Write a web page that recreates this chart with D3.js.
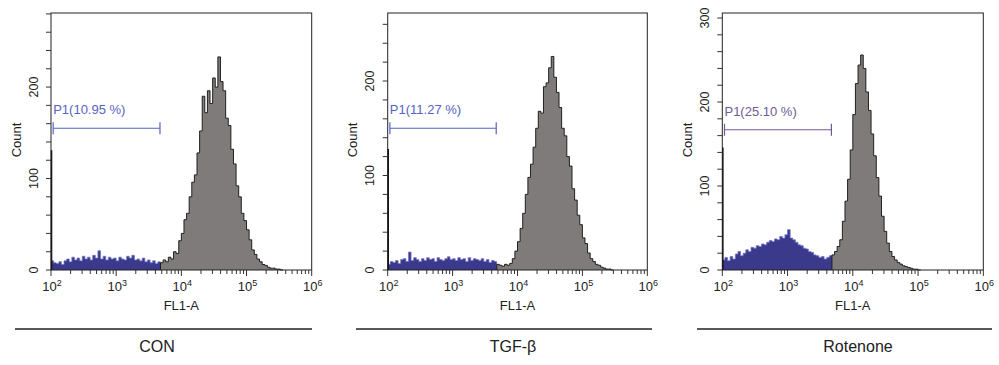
<!DOCTYPE html>
<html>
<head>
<meta charset="utf-8">
<script src="https://cdn.jsdelivr.net/npm/d3@7"></script>
<style>
  body { margin: 0; background: #fff; }
  svg text { font-family: "Liberation Sans", Arial, sans-serif; fill: #222; }
</style>
</head>
<body>
<svg id="chart" width="999" height="365"></svg>
<script>
// histogram bins start at 10^2, each bin is 0.04 decade wide
const binStart = 2;
const binStep = 0.04;
const gateBins = 42; // bins that fall inside the P1 gate

const panelNames = ['CON', 'TGF-β', 'Rotenone'];
const gateLabels = ['P1(10.95 %)', 'P1(11.27 %)', 'P1(25.10 %)'];
const gateCounts = [155, 150, 167];
const gateRange = [108, 4700];
const yMaxes = [281, 272, 306];
const yTickLabels = [[0, 100, 200], [0, 100, 200], [0, 100, 200, 300]];
const xTickExps = [2, 3, 4, 5, 6];
const edgeCounts = [131, 128, 146]; // events piled on the 10^2 edge

const conCounts = [
  10, 8, 7, 9, 6, 10, 12, 9, 14, 11, 13, 10, 15, 12, 14, 11, 16, 13, 21, 12, 15,
  11, 14, 12, 13, 10, 14, 12, 11, 15, 13, 16, 11, 12, 10, 13, 9, 11, 8, 10, 7, 9,
  8, 11, 9, 14, 12, 20, 18, 32, 40, 55, 62, 80, 96, 104, 128, 152, 190, 172, 196,
  182, 210, 200, 233, 206, 196, 166, 158, 132, 116, 92, 80, 62, 54, 44, 33, 22,
  17, 12, 9, 6, 5, 3, 2, 2, 1, 1, 0
];
const tgfCounts = [
  6, 9, 8, 10, 7, 11, 12, 9, 19, 10, 13, 11, 9, 12, 10, 13, 11, 12, 9, 13, 11,
  10, 12, 14, 11, 12, 10, 13, 11, 12, 9, 13, 10, 12, 11, 10, 12, 9, 11, 8, 10, 9,
  6, 5, 4, 6, 5, 7, 12, 20, 30, 44, 60, 80, 98, 112, 130, 150, 168, 166, 194, 198,
  214, 226, 204, 188, 172, 150, 142, 120, 110, 86, 74, 58, 48, 34, 28, 18, 12, 9,
  6, 5, 3, 2, 1, 1, 0
];
const rotCounts = [
  12, 15, 11, 16, 13, 19, 22, 17, 20, 24, 22, 27, 26, 29, 28, 31, 30, 33, 35, 34,
  37, 36, 40, 38, 42, 48, 38, 36, 33, 30, 29, 26, 25, 22, 21, 18, 17, 15, 16, 13,
  15, 17,
  18, 22, 28, 36, 58, 82, 108, 143, 185, 222, 244, 256, 240, 212, 190, 162, 136,
  110, 88, 64, 46, 32, 22, 16, 12, 9, 7, 5, 4, 3, 2, 1, 1, 0
];
const allCounts = [conCounts, tgfCounts, rotCounts];

// layout
const plotTop = 13, plotBottom = 270;
const layout = [
  { left: 51, right: 311.7, lineL: 15, lineR: 312, titleX: 157 },
  { left: 387.7, right: 647.3, lineL: 356, lineR: 652, titleX: 513 },
  { left: 722.3, right: 983.3, lineL: 697, lineR: 992, titleX: 858 }
];
const colors = [
  { gate: '#5564c0', blue: '#3a398b', blueEdge: '#7475c6' },
  { gate: '#5564c0', blue: '#3a398b', blueEdge: '#7475c6' },
  { gate: '#6f5a92', blue: '#3a398b', blueEdge: '#7475c6' }
];

const svg = d3.select('#chart');

panelNames.forEach((name, p) => {
  const L = layout[p];
  const counts = allCounts[p];
  const x = d3.scaleLog().domain([1e2, 1e6]).range([L.left, L.right]);
  const y = d3.scaleLinear().domain([0, yMaxes[p]]).range([plotBottom, plotTop]);
  const g = svg.append('g');

  const pts = counts.map((c, i) => ({ v: Math.pow(10, binStart + i * binStep), c }));
  const closeAt = i => ({ v: Math.pow(10, binStart + i * binStep), c: counts[i - 1] });
  const bluePts = pts.slice(0, gateBins).concat([closeAt(gateBins)]);
  const grayPts = pts.slice(gateBins).concat([closeAt(counts.length)]);

  const area = d3.area().curve(d3.curveStepAfter)
    .x(d => x(d.v)).y0(y(0)).y1(d => y(d.c));
  const line = d3.line().curve(d3.curveStepAfter)
    .x(d => x(d.v)).y(d => y(d.c));

  // blue (gated) part
  g.append('path').attr('d', area(bluePts)).attr('fill', colors[p].blue);
  g.append('path').attr('d', line(bluePts)).attr('fill', 'none')
    .attr('stroke', colors[p].blueEdge).attr('stroke-width', 0.8);
  // gray part
  g.append('path').attr('d', area(grayPts)).attr('fill', '#807b7b');
  g.append('path').attr('d', line([{ v: grayPts[0].v, c: 0 }].concat(grayPts)))
    .attr('fill', 'none').attr('stroke', '#111').attr('stroke-width', 0.9);

  // events on the lower edge
  g.append('line')
    .attr('x1', x(1e2) + 0.5).attr('x2', x(1e2) + 0.5)
    .attr('y1', y(0)).attr('y2', y(edgeCounts[p]))
    .attr('stroke', '#111').attr('stroke-width', 1.6);

  // frame
  g.append('rect')
    .attr('x', L.left).attr('y', plotTop)
    .attr('width', L.right - L.left).attr('height', plotBottom - plotTop)
    .attr('fill', 'none').attr('stroke', '#222').attr('stroke-width', 1);

  // x ticks
  x.ticks().forEach(v => {
    const major = Math.abs(Math.log10(v) - Math.round(Math.log10(v))) < 1e-9;
    g.append('line')
      .attr('x1', x(v)).attr('x2', x(v))
      .attr('y1', plotBottom).attr('y2', plotBottom + (major ? 6 : 4))
      .attr('stroke', '#333').attr('stroke-width', 1);
  });
  xTickExps.forEach(e => {
    const t = g.append('text')
      .attr('x', x(Math.pow(10, e)) + 1).attr('y', 291)
      .attr('text-anchor', 'middle').attr('font-size', 13);
    t.append('tspan').text('10');
    t.append('tspan').attr('font-size', 9).attr('dy', -5).text(e);
  });
  g.append('text')
    .attr('x', (L.left + L.right) / 2).attr('y', 310)
    .attr('text-anchor', 'middle').attr('font-size', 13)
    .text('FL1-A');

  // y ticks
  d3.range(0, yMaxes[p] + 1, 20).forEach(v => {
    g.append('line')
      .attr('x1', L.left - 5).attr('x2', L.left)
      .attr('y1', y(v)).attr('y2', y(v))
      .attr('stroke', '#333').attr('stroke-width', 1);
  });
  yTickLabels[p].forEach(v => {
    g.append('text')
      .attr('transform', `translate(${L.left - 13.5},${y(v)}) rotate(-90)`)
      .attr('text-anchor', 'middle').attr('font-size', 12.5)
      .text(v);
  });
  g.append('text')
    .attr('transform', `translate(${L.left - 30.5},140) rotate(-90)`)
    .attr('text-anchor', 'middle').attr('font-size', 13)
    .text('Count');

  // P1 gate
  const gy = y(gateCounts[p]);
  const gx0 = x(gateRange[0]), gx1 = x(gateRange[1]);
  g.append('line').attr('x1', gx0).attr('x2', gx1).attr('y1', gy).attr('y2', gy)
    .attr('stroke', colors[p].gate).attr('stroke-width', 1.2);
  [gx0, gx1].forEach(gx => {
    g.append('line').attr('x1', gx).attr('x2', gx).attr('y1', gy - 6).attr('y2', gy + 6)
      .attr('stroke', colors[p].gate).attr('stroke-width', 1.2);
  });
  g.append('text')
    .attr('x', gx0).attr('y', gy - 14)
    .attr('font-size', 13).style('fill', colors[p].gate)
    .text(gateLabels[p]);

  // separator and sample name
  g.append('line')
    .attr('x1', L.lineL).attr('x2', L.lineR).attr('y1', 329).attr('y2', 329)
    .attr('stroke', '#222').attr('stroke-width', 1.3);
  g.append('text')
    .attr('x', L.titleX).attr('y', 352)
    .attr('text-anchor', 'middle').attr('font-size', 16)
    .text(name);
});
</script>
</body>
</html>
